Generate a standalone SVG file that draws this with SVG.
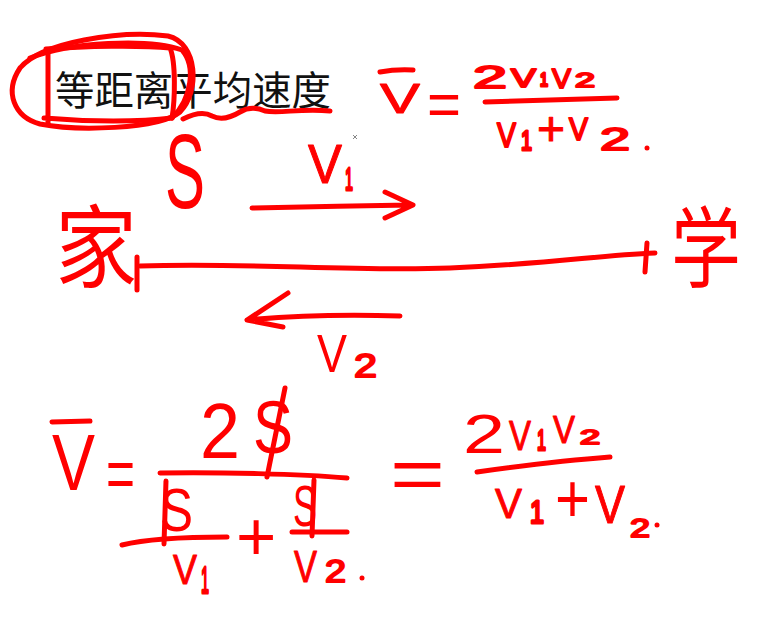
<svg xmlns="http://www.w3.org/2000/svg" width="763" height="621" viewBox="0 0 763 621">
<style>
.ink{fill:none;stroke:#f00;stroke-width:5;stroke-linecap:round;stroke-linejoin:round}
.h{font-family:"Liberation Sans",Arial,sans-serif;fill:#f00;stroke:#f00;stroke-linejoin:round}
.b3{stroke-width:3}
.b2{stroke-width:2}
.b1{stroke-width:1}
.b0{stroke-width:0}
.cj{font-family:"Noto Sans CJK SC",sans-serif;fill:#f00}
.title{font-family:"Noto Sans CJK SC",sans-serif;fill:#111;font-size:40px}
</style>
<rect width="763" height="621" fill="#fff"/>

<g id="title">
<text class="title" x="55" y="105" textLength="276" lengthAdjust="spacingAndGlyphs">等距离平均速度</text>
<path class="ink" d="M20,68 C42,42 120,30 168,36 C198,43 200,92 180,112 C158,130 75,131 40,124 C14,117 4,92 20,68"/>
<path class="ink" d="M30,58 C70,42 148,38 182,50 C196,66 192,98 172,118"/>
<path class="ink" d="M48,52 L48,124 M46,49 C85,46 140,45 170,48 C176,62 175,100 172,118 M44,118 C90,122 140,122 172,118"/>
<path class="ink" d="M183,119 C195,113 205,112 212,116 C220,120 230,118 240,112 C250,106 258,108 265,111 C280,114 300,108 330,111"/>
</g>

<g id="formula-top">
<path class="ink" d="M380,72 Q396,69 413,70"/>
<path class="ink" d="M485,102 L617,98"/>
<text class="h b0"><tspan x="380" y="113" font-size="43" textLength="40" lengthAdjust="spacingAndGlyphs" class="b1">V</tspan><tspan x="427" y="125" font-size="62" textLength="34" lengthAdjust="spacingAndGlyphs">=</tspan><tspan x="473" y="88" font-size="32" textLength="34" lengthAdjust="spacingAndGlyphs" class="b2">2</tspan><tspan x="511" y="87" font-size="25" textLength="25" lengthAdjust="spacingAndGlyphs" class="b2">V</tspan><tspan x="540" y="86" font-size="19" textLength="8" lengthAdjust="spacingAndGlyphs" class="b3">1</tspan><tspan x="552" y="88" font-size="28" textLength="19" lengthAdjust="spacingAndGlyphs" class="b2">V</tspan><tspan x="575" y="87" font-size="21" textLength="20" lengthAdjust="spacingAndGlyphs" class="b2">2</tspan><tspan x="497" y="147" font-size="35" textLength="19" lengthAdjust="spacingAndGlyphs" class="b2">V</tspan><tspan x="521" y="150" font-size="28" textLength="11" lengthAdjust="spacingAndGlyphs" class="b3">1</tspan><tspan x="537" y="145" font-size="48" class="b1">+</tspan><tspan x="569" y="140" font-size="31" textLength="19" lengthAdjust="spacingAndGlyphs" class="b2">V</tspan><tspan x="600" y="150" font-size="32" textLength="30" lengthAdjust="spacingAndGlyphs" class="b2">2</tspan></text>
<circle cx="647" cy="148" r="2.5" fill="#f00"/>
</g>

<g id="scene">
<text class="h b0" x="165" y="208" font-size="106" textLength="40" lengthAdjust="spacingAndGlyphs">S</text>
<text class="h b0"><tspan x="308" y="183" font-size="55" textLength="34" lengthAdjust="spacingAndGlyphs" class="b1">V</tspan><tspan x="345" y="190" font-size="32" textLength="8" lengthAdjust="spacingAndGlyphs" class="b3">1</tspan></text>
<path d="M353,135 L357,139 M357,135 L353,139" stroke="#888" stroke-width="1" fill="none"/>
<text class="cj" x="55" y="280" font-size="90" textLength="82" lengthAdjust="spacingAndGlyphs">家</text>
<text class="cj" x="671" y="280" font-size="88" textLength="70" lengthAdjust="spacingAndGlyphs">学</text>
<text class="h b0"><tspan x="317" y="372" font-size="54" textLength="30" lengthAdjust="spacingAndGlyphs">V</tspan><tspan x="354" y="377" font-size="34" textLength="23" lengthAdjust="spacingAndGlyphs" class="b2">2</tspan></text>
</g>

<g id="connectors">
<path class="ink" d="M137,257 L137,290"/>
<path class="ink" d="M647,243 L645,272"/>
<path class="ink" d="M140,266 C250,262 350,272 450,268 C550,264 600,255 655,253"/>
<path class="ink" d="M252,208 C300,207 360,206 410,205 M385,192 L413,205 L385,218"/>
<path class="ink" d="M400,316 C340,314 290,316 247,320 M288,293 L247,320 L283,327"/>
</g>

<g id="formula-bottom-left">
<path class="ink" d="M52,422 L90,421"/>
<path class="ink" d="M285,388 L267,477"/>
<path class="ink" d="M160,473 C220,472 300,474 347,478"/>
<path class="ink" d="M166,481 L164,544"/>
<path class="ink" d="M122,545 C150,538 190,537 227,537"/>
<path class="ink" d="M314,480 L312,536"/>
<path class="ink" d="M292,532 L347,532"/>
<text class="h b0"><tspan x="52" y="490" font-size="80" textLength="43" lengthAdjust="spacingAndGlyphs">V</tspan><tspan x="106" y="498" font-size="70" textLength="29" lengthAdjust="spacingAndGlyphs">=</tspan><tspan x="200" y="458" font-size="78" textLength="40" lengthAdjust="spacingAndGlyphs">2</tspan><tspan x="253" y="453" font-size="74" textLength="40" lengthAdjust="spacingAndGlyphs">S</tspan><tspan x="160" y="531" font-size="62" textLength="33" lengthAdjust="spacingAndGlyphs">S</tspan><tspan x="173" y="584" font-size="42" textLength="24" lengthAdjust="spacingAndGlyphs" class="b1">V</tspan><tspan x="201" y="593" font-size="36" textLength="8" lengthAdjust="spacingAndGlyphs" class="b3">1</tspan><tspan x="236" y="560" font-size="69">+</tspan><tspan x="293" y="526" font-size="58" textLength="24" lengthAdjust="spacingAndGlyphs">S</tspan><tspan x="294" y="582" font-size="45" textLength="23" lengthAdjust="spacingAndGlyphs" class="b1">V</tspan><tspan x="325" y="582" font-size="31" textLength="21" lengthAdjust="spacingAndGlyphs" class="b2">2</tspan></text>
<circle cx="362" cy="578" r="2.5" fill="#f00"/>
</g>

<g id="formula-bottom-right">
<path class="ink" d="M477,472 C520,466 570,460 610,457"/>
<text class="h b0"><tspan x="390" y="499" font-size="75" textLength="55" lengthAdjust="spacingAndGlyphs">=</tspan><tspan x="463" y="453" font-size="56" textLength="42" lengthAdjust="spacingAndGlyphs">2</tspan><tspan x="509" y="450" font-size="42" textLength="22" lengthAdjust="spacingAndGlyphs" class="b1">V</tspan><tspan x="537" y="450" font-size="30" textLength="9" lengthAdjust="spacingAndGlyphs" class="b3">1</tspan><tspan x="553" y="443" font-size="39" textLength="22" lengthAdjust="spacingAndGlyphs" class="b1">V</tspan><tspan x="580" y="444" font-size="20" textLength="20" lengthAdjust="spacingAndGlyphs" class="b2">2</tspan><tspan x="495" y="518" font-size="42" textLength="27" lengthAdjust="spacingAndGlyphs" class="b1">V</tspan><tspan x="530" y="523" font-size="32" textLength="14" lengthAdjust="spacingAndGlyphs" class="b3">1</tspan><tspan x="555" y="522" font-size="68" textLength="35" lengthAdjust="spacingAndGlyphs">+</tspan><tspan x="595" y="523" font-size="53" textLength="30" lengthAdjust="spacingAndGlyphs" class="b1">V</tspan><tspan x="630" y="537" font-size="26" textLength="20" lengthAdjust="spacingAndGlyphs" class="b2">2</tspan></text>
<circle cx="657" cy="525" r="2.5" fill="#f00"/>
</g>
</svg>
